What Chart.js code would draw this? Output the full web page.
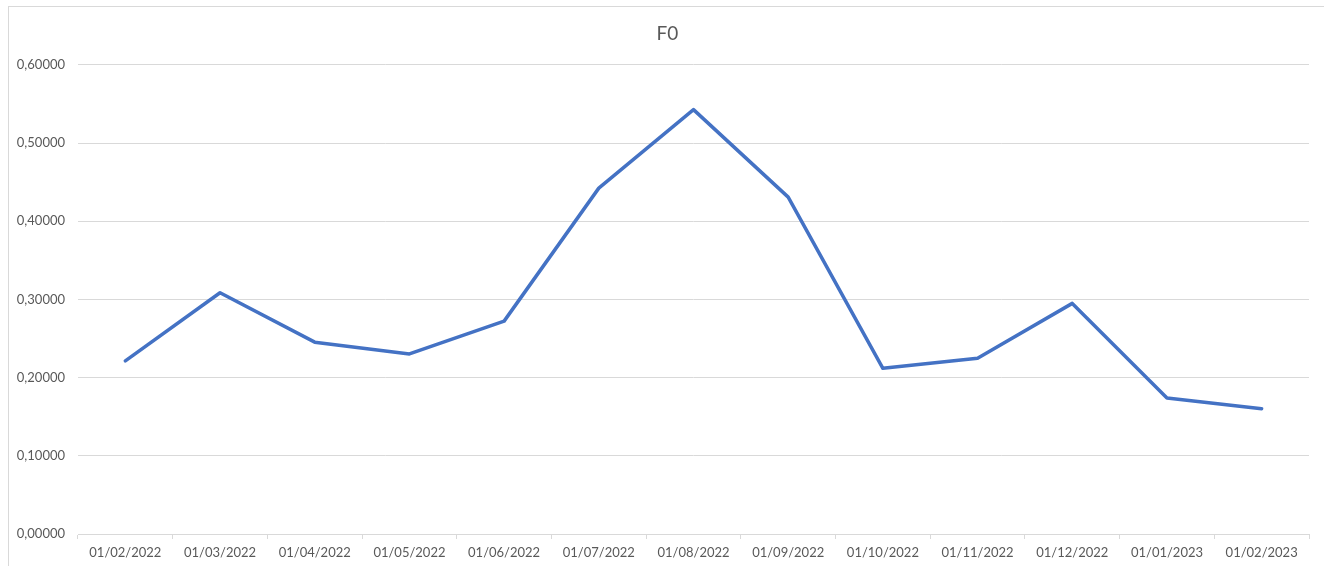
<!DOCTYPE html>
<html>
<head>
<meta charset="utf-8">
<script src="https://cdn.jsdelivr.net/npm/chart.js@4"></script>
<style>
  html, body { margin: 0; padding: 0; background: #ffffff; overflow: hidden; }
  #frame {
    position: absolute; left: 8px; top: 6px; width: 1340px; height: 560px;
    border-top: 1px solid #d9d9d9; border-left: 1px solid #d9d9d9; background: #fff;
  }
  #wrap { position: absolute; left: 0; top: 0; width: 1332px; height: 559px; }
</style>
</head>
<body>
<div id="frame"><div id="wrap"><canvas id="c"></canvas></div></div>
<script>
const chartTitle = "F0";
const categories = ["01/02/2022","01/03/2022","01/04/2022","01/05/2022","01/06/2022","01/07/2022","01/08/2022","01/09/2022","01/10/2022","01/11/2022","01/12/2022","01/01/2023","01/02/2023"];
const f0Values = [0.2213, 0.3085, 0.2453, 0.2303, 0.2722, 0.4423, 0.5427, 0.4308, 0.2119, 0.2247, 0.2949, 0.1738, 0.1603];
const yMin = 0, yMax = 0.6, yStep = 0.1;

const textColor = "#595959";
const gridColor = "#d9d9d9";
const fontFamily = "Lato, 'Liberation Sans', sans-serif";

new Chart(document.getElementById("c"), {
  type: "line",
  data: {
    labels: categories,
    datasets: [{
      label: chartTitle,
      data: f0Values,
      yAxisID: "y",
      borderColor: "#4472C4",
      backgroundColor: "#4472C4",
      borderWidth: 3.5,
      pointRadius: 0,
      pointHoverRadius: 0,
      tension: 0,
      fill: false,
      borderJoinStyle: "round",
      borderCapStyle: "round"
    }]
  },
  options: {
    responsive: true,
    maintainAspectRatio: false,
    animation: false,
    layout: { padding: { left: 0, right: 15, top: 0, bottom: 0 } },
    plugins: {
      legend: { display: false },
      tooltip: { enabled: false },
      title: {
        display: true,
        text: chartTitle,
        color: textColor,
        font: { family: fontFamily, size: 19, weight: "normal" },
        padding: { top: 15, bottom: 20 }
      }
    },
    scales: {
      x: {
        offset: true,
        grid: {
          offset: true,
          drawOnChartArea: false,
          drawTicks: true,
          tickLength: 5,
          color: gridColor
        },
        border: { display: true, color: gridColor, width: 1 },
        ticks: {
          color: textColor,
          font: { family: fontFamily, size: 13 },
          padding: 6,
          maxRotation: 0,
          autoSkip: false
        },
        afterFit: (s) => { s.height = 32; }
      },
      y: {
        position: "left",
        min: yMin,
        max: yMax,
        grid: { color: gridColor, drawTicks: false, lineWidth: 1 },
        border: { display: false },
        ticks: {
          stepSize: yStep,
          color: textColor,
          font: { family: fontFamily, size: 13 },
          padding: 13,
          callback: (v) => Number(v).toFixed(5).replace(".", ",")
        },
        afterFit: (s) => { s.width = 69; }
      },
      ySpacer: {
        position: "right",
        display: true,
        min: yMin,
        max: yMax,
        grid: { display: false, drawTicks: false },
        border: { display: false },
        ticks: { display: false },
        afterFit: (s) => { s.width = 17; }
      }
    }
  }
});
</script>
</body>
</html>
